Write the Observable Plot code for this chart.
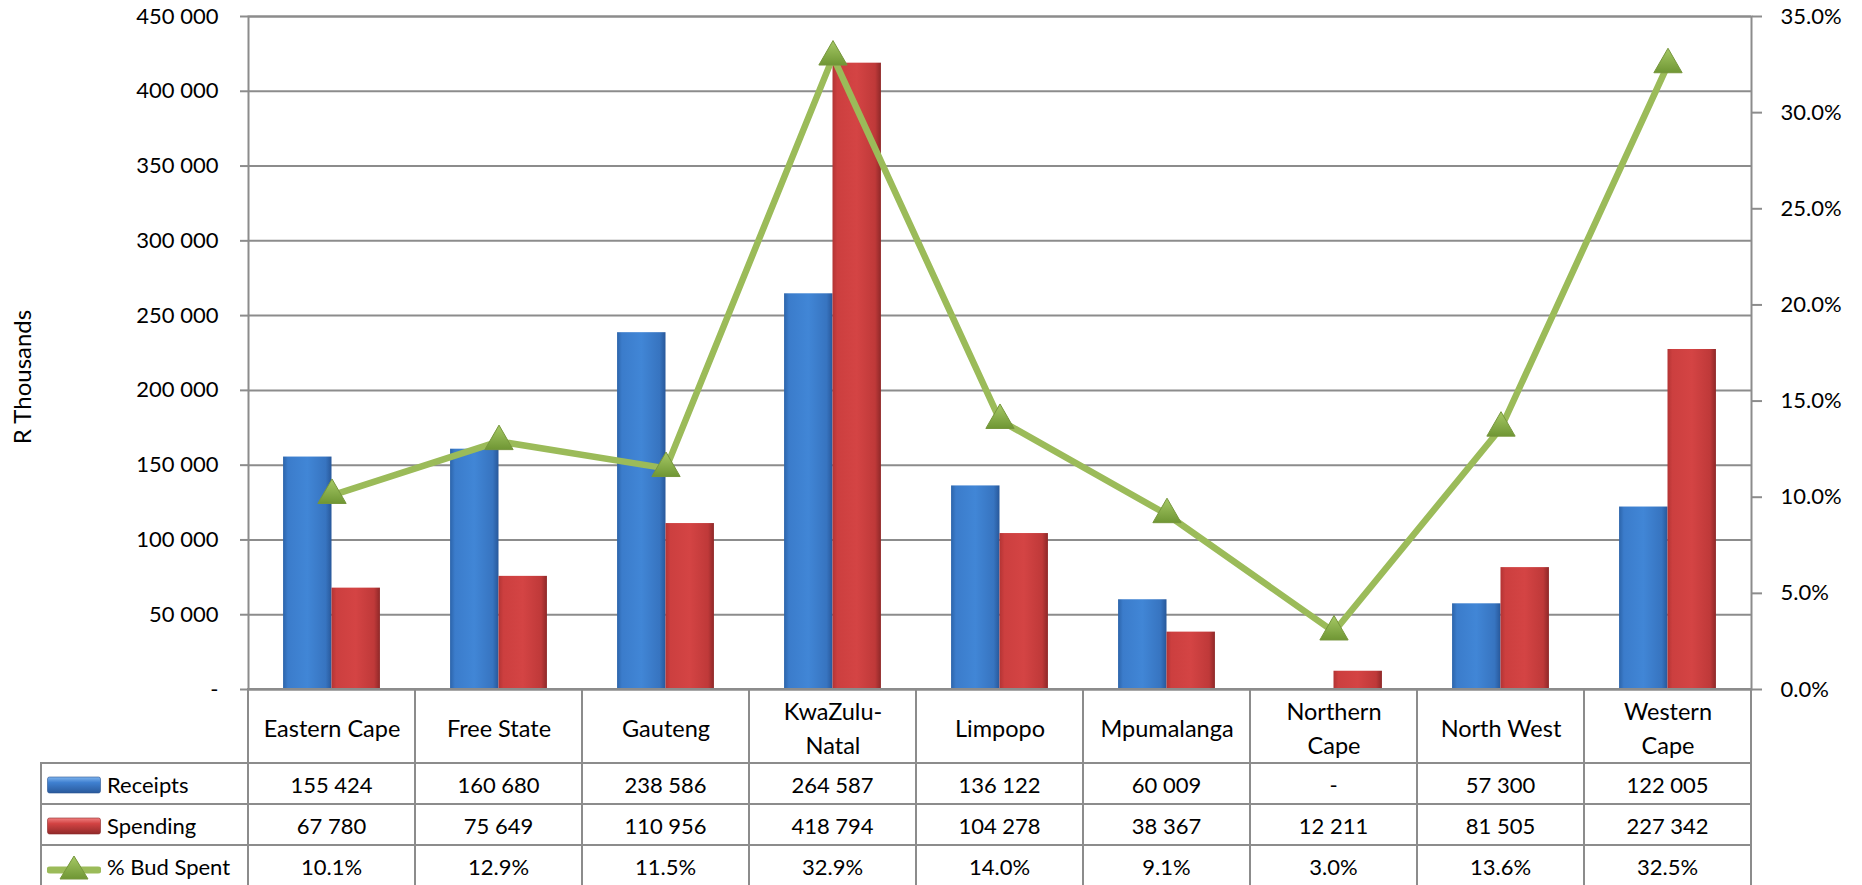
<!DOCTYPE html>
<html>
<head>
<meta charset="utf-8">
<script src="https://cdn.jsdelivr.net/npm/d3@7"></script>
<script src="https://cdn.jsdelivr.net/npm/@observablehq/plot@0.6"></script>
<style>
html, body { margin: 0; padding: 0; background: #fff; }
#wrap { position: relative; width: 1862px; height: 885px; overflow: hidden; font-family: Lato, "Open Sans", sans-serif; font-size: 22px; color: #000; }
#wrap svg.plot-root { position: absolute; left: 0; top: 0; }
.cell { position: absolute; box-sizing: border-box; border: 2px solid #8c8c8c; display: flex; align-items: center; justify-content: center; padding-top: 2px; white-space: nowrap; }
.lab { justify-content: flex-start; padding-left: 5px; }
.lab svg { margin-right: 6px; flex: none; }
</style>
</head>
<body>
<div id="wrap"></div>
<script>
// ---- data ----
const provinces = ["Eastern Cape", "Free State", "Gauteng", "KwaZulu-Natal", "Limpopo", "Mpumalanga", "Northern Cape", "North West", "Western Cape"];
const headerLabels = ["Eastern Cape", "Free State", "Gauteng", "KwaZulu-\nNatal", "Limpopo", "Mpumalanga", "Northern\nCape", "North West", "Western\nCape"];
const receipts = [155424, 160680, 238586, 264587, 136122, 60009, 0, 57300, 122005];
const spending = [67780, 75649, 110956, 418794, 104278, 38367, 12211, 81505, 227342];
const pctSpent = [10.1, 12.9, 11.5, 32.9, 14.0, 9.1, 3.0, 13.6, 32.5];
const seriesNames = ["Receipts", "Spending", "% Bud Spent"];
const leftTicks = [0, 50000, 100000, 150000, 200000, 250000, 300000, 350000, 400000, 450000];
const rightTicks = [0, 5, 10, 15, 20, 25, 30, 35];
const yTitle = "R Thousands";

// ---- layout ----
const W = 1862, H = 763, mL = 248, mR = 111, mT = 16, plotBottom = 689;
const headerH = 74, rowH = 41, legendLeft = 41;
const grid = "#8c8c8c";
const yMax = leftTicks[leftTicks.length - 1];
const pctMax = rightTicks[rightTicks.length - 1];
const k = yMax / pctMax;
const bw = (W - mL - mR) / provinces.length;
const barW = bw * 0.29;

const data = provinces.map((p, i) => ({province: p, receipts: receipts[i], spending: spending[i], pct: pctSpent[i]}));
const fmtNum = v => v === 0 ? "-" : d3.format(",")(v).replace(/,/g, " ");
const fmtPct = v => v.toFixed(1) + "%";

const chart = Plot.plot({
  width: W, height: H,
  marginLeft: mL, marginRight: mR, marginTop: mT, marginBottom: H - plotBottom,
  style: {fontFamily: "Lato, 'Open Sans', sans-serif", fontSize: "22px", color: "#000", background: "transparent", overflow: "visible"},
  x: {type: "band", domain: provinces, padding: 0, axis: null},
  y: {domain: [0, yMax], axis: null},
  marks: [
    Plot.gridY(leftTicks, {stroke: grid, strokeOpacity: 1, strokeWidth: 2}),
    Plot.barY(data, {x: "province", y: "receipts", fill: "url(#gBlue)", insetLeft: bw / 2 - barW, insetRight: bw / 2}),
    Plot.barY(data, {x: "province", y: "spending", fill: "url(#gRed)", insetLeft: bw / 2, insetRight: bw / 2 - barW}),
    Plot.frame({stroke: grid, strokeWidth: 2}),
    Plot.axisY(leftTicks, {anchor: "left", tickSize: 8, tickPadding: 22, tickFormat: fmtNum, stroke: grid, strokeWidth: 2, label: null}),
    Plot.axisY(rightTicks.map(p => p * k), {anchor: "right", tickSize: 10, tickPadding: 19, tickFormat: v => fmtPct(v / k), stroke: grid, strokeWidth: 2, label: null}),
    Plot.axisX(provinces, {anchor: "bottom", tickSize: 0, tickPadding: 37, lineAnchor: "middle", lineHeight: 1.45, fontSize: 23.5, tickFormat: p => headerLabels[provinces.indexOf(p)], label: null}),
    Plot.line(data, {x: "province", y: d => d.pct * k, stroke: "#9BBB59", strokeWidth: 6.5, strokeLinejoin: "round"}),
    Plot.dot(data, {x: "province", y: d => d.pct * k, symbol: "triangle", r: 10.5, fill: "url(#gGreen)", stroke: "#76963c", strokeWidth: 1}),
    Plot.text([yTitle], {frameAnchor: "left", textAnchor: "middle", rotate: -90, fontSize: 24, dx: -225, dy: 24})
  ]
});
chart.classList.add("plot-root");
d3.select(chart).insert("defs", ":first-child").html(`
  <linearGradient id="gBlue" x1="0" x2="1" y1="0" y2="0">
    <stop offset="0" stop-color="#2c64aa"/><stop offset="0.1" stop-color="#3b7ccb"/>
    <stop offset="0.5" stop-color="#4186d6"/><stop offset="0.88" stop-color="#3774c0"/>
    <stop offset="1" stop-color="#28589a"/></linearGradient>
  <linearGradient id="gRed" x1="0" x2="1" y1="0" y2="0">
    <stop offset="0" stop-color="#b33434"/><stop offset="0.1" stop-color="#cc3f3f"/>
    <stop offset="0.5" stop-color="#d44444"/><stop offset="0.88" stop-color="#bf3939"/>
    <stop offset="1" stop-color="#8e2828"/></linearGradient>
  <linearGradient id="gGreen" x1="0" x2="0" y1="0" y2="1">
    <stop offset="0" stop-color="#a6c965"/><stop offset="1" stop-color="#6f9634"/></linearGradient>`);

const wrap = document.getElementById("wrap");
wrap.appendChild(chart);

// ---- data table below the plot (aligned to the x scale) ----
const xs = chart.scale("x");
const band = xs.bandwidth;
function cell(left, top, width, height, html, cls) {
  const d = document.createElement("div");
  d.className = "cell" + (cls ? " " + cls : "");
  d.style.left = (left - 1) + "px";
  d.style.top = (top - 1) + "px";
  d.style.width = (width + 2) + "px";
  d.style.height = (height + 2) + "px";
  d.innerHTML = html;
  wrap.appendChild(d);
}
// header row borders (labels drawn by the x axis)
provinces.forEach(p => cell(xs.apply(p), plotBottom, band, headerH, ""));

const keys = [
  `<svg width="54" height="18"><defs><linearGradient id="kB" x1="0" x2="0" y1="0" y2="1"><stop offset="0" stop-color="#7fb4ee"/><stop offset="0.35" stop-color="#3f80d0"/><stop offset="1" stop-color="#2a5a9c"/></linearGradient></defs><rect x="0.5" y="1" width="53" height="16" rx="2" fill="url(#kB)" stroke="#2a5592" stroke-width="0.6"/></svg>`,
  `<svg width="54" height="18"><defs><linearGradient id="kR" x1="0" x2="0" y1="0" y2="1"><stop offset="0" stop-color="#f08080"/><stop offset="0.35" stop-color="#d24343"/><stop offset="1" stop-color="#912a2a"/></linearGradient></defs><rect x="0.5" y="1" width="53" height="16" rx="2" fill="url(#kR)" stroke="#8a2626" stroke-width="0.6"/></svg>`,
  `<svg width="54" height="26"><defs><linearGradient id="kG" x1="0" x2="0" y1="0" y2="1"><stop offset="0" stop-color="#a6c965"/><stop offset="1" stop-color="#6f9634"/></linearGradient></defs><line x1="3" x2="51" y1="16" y2="16" stroke="#9BBB59" stroke-width="7" stroke-linecap="round"/><path d="M27,2 L41,25 L13,25 Z" fill="url(#kG)" stroke="#76963c" stroke-width="1"/></svg>`
];
const rows = [receipts.map(fmtNum), spending.map(fmtNum), pctSpent.map(fmtPct)];
rows.forEach((vals, r) => {
  const top = plotBottom + headerH + r * rowH;
  cell(legendLeft, top, mL - legendLeft, rowH, keys[r] + `<span>${seriesNames[r]}</span>`, "lab");
  provinces.forEach((p, i) => cell(xs.apply(p), top, band, rowH, vals[i]));
});
</script>
</body>
</html>
